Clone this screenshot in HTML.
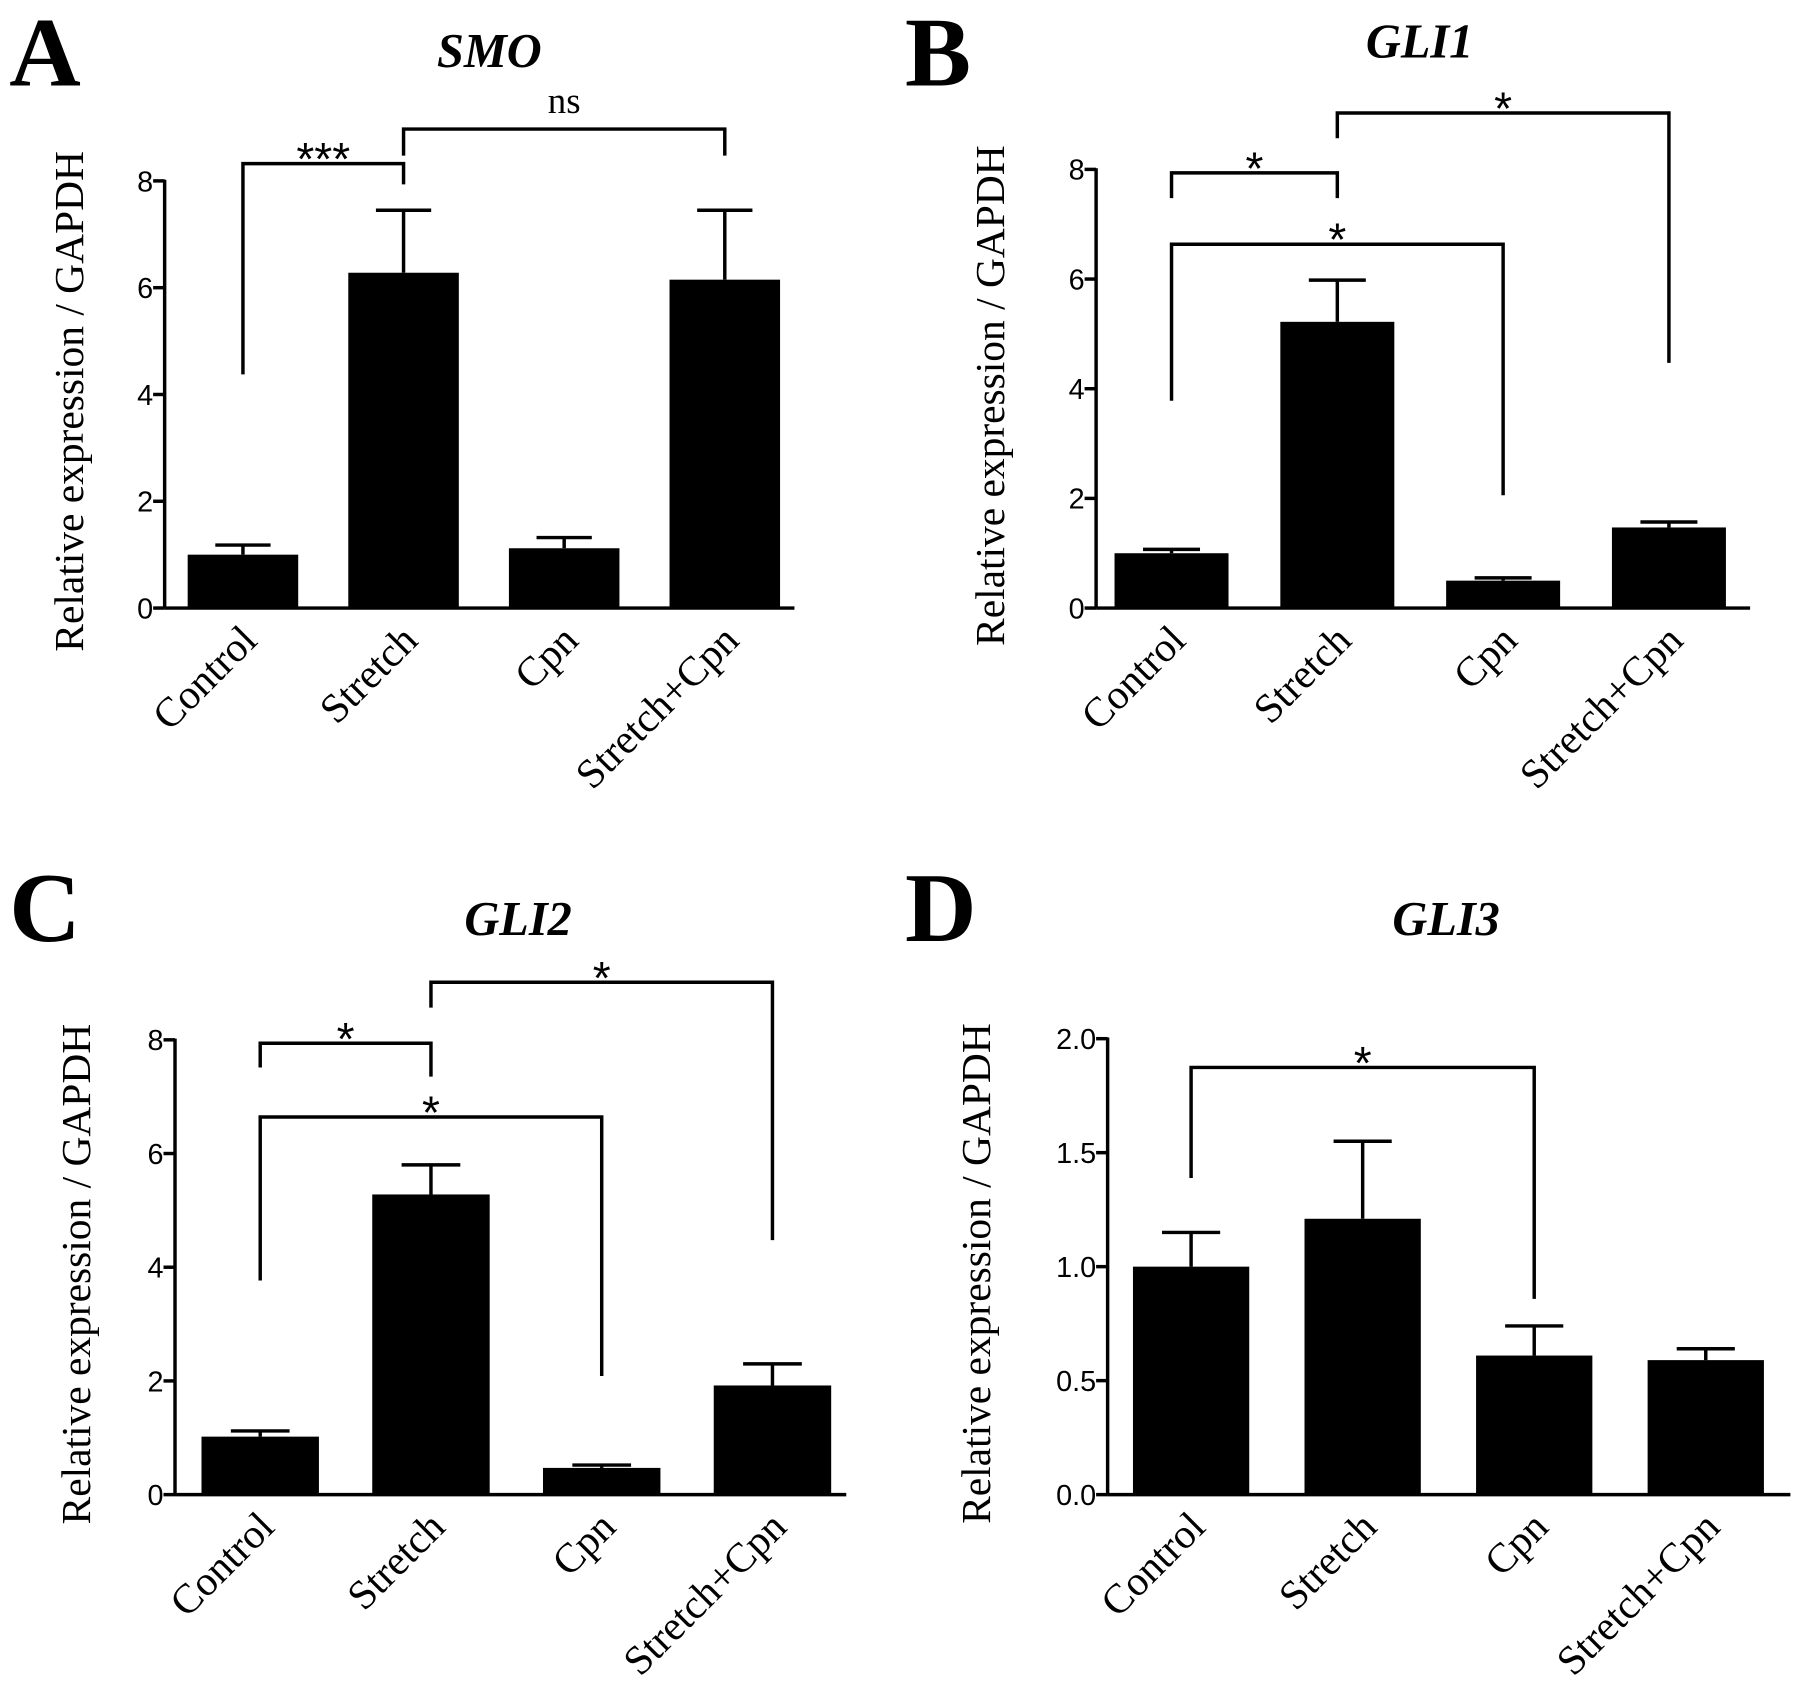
<!DOCTYPE html>
<html><head><meta charset="utf-8"><style>
html,body{margin:0;padding:0;background:#fff;}
svg{display:block;}
.tk{font-family:"Liberation Sans",sans-serif;}
.ser{font-family:"Liberation Serif",serif;}
</style></head><body>
<svg id="fig" width="1795" height="1702" viewBox="0 0 1559 1478" xmlns="http://www.w3.org/2000/svg"></svg>
<script>
const categories = ["Control","Stretch","Cpn","Stretch+Cpn"];
const smoValues = [1.0, 6.28, 1.12, 6.15];
const smoErrors = [0.18, 1.17, 0.2, 1.3];
const gli1Values = [1.0, 5.22, 0.5, 1.47];
const gli1Errors = [0.07, 0.76, 0.05, 0.1];
const gli2Values = [1.02, 5.28, 0.47, 1.92];
const gli2Errors = [0.1, 0.52, 0.05, 0.38];
const gli3Values = [1.0, 1.21, 0.61, 0.59];
const gli3Errors = [0.15, 0.34, 0.13, 0.05];
const ticks8 = [0,2,4,6,8];
const tickLabels8 = ["0","2","4","6","8"];
const ticks2 = [0,0.5,1.0,1.5,2.0];
const tickLabels2 = ["0.0","0.5","1.0","1.5","2.0"];

const NS="http://www.w3.org/2000/svg";
const svg=document.getElementById('fig');
function mk(tag,attrs,parent,text){const e=document.createElementNS(NS,tag);for(const k in attrs)e.setAttribute(k,attrs[k]);if(text!==undefined)e.textContent=text;(parent||svg).appendChild(e);return e;}

function panel(p){
  const g=mk('g',{});
  
  
  const y=v=>p.y0-(v/p.max)*(p.y0-p.yTop);
  const bw=p.bw, cx=i=>p.x1+i*p.step;
  let t=mk('text',{x:p.letterX,y:p.letterY,class:'ser',style:'font-size:86px;font-weight:bold'},g,p.id);
  
  
  t=mk('text',{x:p.titleX,y:p.titleY,class:'ser',style:'font-size:42px;font-weight:bold;font-style:italic','text-anchor':'middle'},g,p.title);
  
  
  let a=mk('line',{x1:p.ax,y1:y(p.max)-1,x2:p.ax,y2:p.y0,stroke:'#000','stroke-width':3},g);
  
  
  a=mk('line',{x1:p.ax,y1:p.y0,x2:p.axEnd,y2:p.y0,stroke:'#000','stroke-width':3},g);
  
  
  p.ticks.forEach((v,i)=>{
    const l=mk('line',{x1:p.ax-10,y1:y(v),x2:p.ax,y2:y(v),stroke:'#000','stroke-width':3},g);
    
    
    const tt=mk('text',{x:p.ax-10,y:y(v)+9,class:'tk',style:'font-size:25px','text-anchor':'end'},g,p.tickLabels[i]);
    
    
  });
  const yt=mk('text',{x:0,y:0,class:'ser',style:'font-size:36px','text-anchor':'middle',transform:`translate(${p.ytX},${(p.yTop+p.y0)/2+6}) rotate(-90)`},g,'Relative expression / GAPDH');
  
  
  p.values.forEach((v,i)=>{
    const c=cx(i), top=y(v), et=y(v+p.errors[i]);
    const el=mk('line',{x1:c,y1:top,x2:c,y2:et,stroke:'#000','stroke-width':3},g);
    
    
    const cap=mk('line',{x1:c-bw*0.25,y1:et,x2:c+bw*0.25,y2:et,stroke:'#000','stroke-width':3},g);
    
    
    const r=mk('rect',{x:c-bw/2,y:top,width:bw,height:p.y0-top,fill:'#000'},g);
    
    
    const xl=mk('text',{x:0,y:0,class:'ser',style:'font-size:36px','text-anchor':'end',transform:`translate(${c+14},${p.y0+30}) rotate(-45)`},g,categories[i]);
    
    
  });
  p.brackets.forEach(b=>{
    const x1=cx(b.a), x2=cx(b.b);
    const pl=mk('polyline',{points:`${x1},${b.ya} ${x1},${b.y} ${x2},${b.y} ${x2},${b.yb}`,fill:'none',stroke:'#000','stroke-width':3},g);
    
    
    const isNs=b.label==='ns';
    const st=mk('text',{x:(x1+x2)/2,y:isNs?b.y-14:b.y+10,class:isNs?'ser':'tk',style:isNs?'font-size:32px':'font-size:40px','text-anchor':'middle'},g,b.label);
    
    
  });
}

panel({id:'A',title:'SMO',letterX:8,letterY:74,titleX:425,titleY:58,ax:143,axEnd:690,yTop:157,y0:528,max:8,
  ticks:ticks8,tickLabels:tickLabels8,ytX:72,x1:211,step:139.5,bw:96,values:smoValues,errors:smoErrors,
  brackets:[{a:0,b:1,y:142,ya:325,yb:160,label:'***'},{a:1,b:3,y:112,ya:135,yb:135,label:'ns'}]});
panel({id:'B',title:'GLI1',letterX:786,letterY:74,titleX:1233,titleY:50,ax:952,axEnd:1520,yTop:147,y0:528,max:8,
  ticks:ticks8,tickLabels:tickLabels8,ytX:872,x1:1017.5,step:144,bw:99,values:gli1Values,errors:gli1Errors,
  brackets:[{a:0,b:1,y:150,ya:172,yb:172,label:'*'},{a:0,b:2,y:212,ya:348,yb:430,label:'*'},{a:1,b:3,y:98,ya:120,yb:315,label:'*'}]});
panel({id:'C',title:'GLI2',letterX:8,letterY:817,titleX:450,titleY:812,ax:152,axEnd:735,yTop:903,y0:1298,max:8,
  ticks:ticks8,tickLabels:tickLabels8,ytX:78,x1:226,step:148.3,bw:102,values:gli2Values,errors:gli2Errors,
  brackets:[{a:0,b:1,y:906,ya:927,yb:935,label:'*'},{a:0,b:2,y:970,ya:1112,yb:1195,label:'*'},{a:1,b:3,y:853,ya:875,yb:1077,label:'*'}]});
panel({id:'D',title:'GLI3',letterX:786,letterY:817,titleX:1256,titleY:812,ax:962,axEnd:1555,yTop:902,y0:1298,max:2,
  ticks:ticks2,tickLabels:tickLabels2,ytX:860,x1:1034.5,step:149,bw:101,values:gli3Values,errors:gli3Errors,
  brackets:[{a:0,b:2,y:927,ya:1023,yb:1128,label:'*'}]});
</script>
</body></html>
